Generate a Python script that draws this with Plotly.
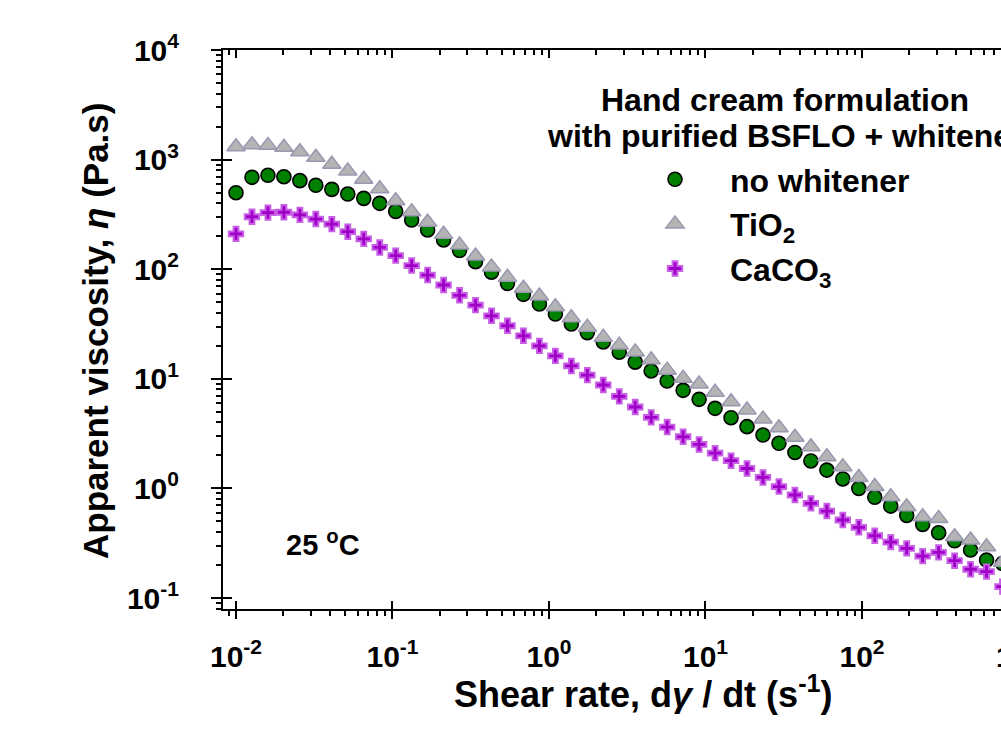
import numpy as np
import plotly.graph_objects as go

# ---------------- data ----------------
n_points = 50
shear_rate = [10 ** (-2 + 5 * i / 49) for i in range(n_points)]  # 0.01 ... 1000 s^-1, log spaced

no_whitener = [499, 689, 719, 698, 643, 583, 535, 485, 443, 399,
               337, 281, 228, 185, 148, 117, 94, 74.3, 59, 48.1,
               39, 31.6, 26.4, 21.7, 17.5, 14.2, 11.8, 9.55, 7.85, 6.50,
               5.38, 4.42, 3.66, 3.07, 2.58, 2.13, 1.78, 1.47, 1.22, 1.00,
               0.83, 0.69, 0.568, 0.47, 0.394, 0.333, 0.274, 0.222, 0.207, 0.19]

tio2 = [1312, 1368, 1349, 1295, 1180, 1049, 906, 787, 661, 543,
        422, 335, 268, 208, 166, 132, 105, 84.3, 67, 56.9,
        45.5, 36.1, 29.5, 23.9, 20.3, 17.6, 14.9, 12.0, 10.1, 8.97,
        7.54, 6.18, 5.19, 4.30, 3.58, 2.93, 2.40, 1.95, 1.58, 1.26,
        1.04, 0.84, 0.681, 0.552, 0.533, 0.362, 0.338, 0.294, 0.212, 0.20]

caco3 = [210, 301, 328, 331, 313, 287, 258, 220, 189, 158,
         133, 108, 88.5, 71.8, 57.8, 47, 37.6, 30.5, 24.7, 20.0,
         16.2, 13.1, 10.8, 8.78, 6.92, 5.53, 4.45, 3.63, 2.96, 2.52,
         2.10, 1.79, 1.52, 1.26, 1.04, 0.871, 0.731, 0.622, 0.515, 0.442,
         0.370, 0.324, 0.284, 0.241, 0.261, 0.219, 0.183, 0.174, 0.127, 0.11]

series_names = ["no whitener", "TiO<sub>2</sub>", "CaCO<sub>3</sub>"]
decades_x = [-2, -1, 0, 1, 2, 3]
decades_y = [-1, 0, 1, 2, 3, 4]
x_ticktext = ["10<sup>%d</sup>" % d for d in decades_x]
y_ticktext = ["10<sup>%d</sup>" % d for d in decades_y]

# ---------------- layout geometry ----------------
W, H = 1100, 743
L, R, T, B = 223, 34, 50, 134
PW, PH = W - L - R, H - T - B
X0 = -2.083
XR = [X0, X0 + PW / 156.5]
YR = [-1.1, 4.0]

FONT = "Liberation Sans, Arial, sans-serif"


def px_x(p):
    return (p - L) / PW


def px_y(p):
    return (H - B - p) / PH


fig = go.Figure()

fig.add_trace(go.Scatter(
    x=shear_rate, y=no_whitener, mode="markers", name=series_names[0],
    marker=dict(symbol="circle", size=14, color="#008000",
                line=dict(color="#000000", width=1.6))))
fig.add_trace(go.Scatter(
    x=shear_rate, y=tio2, mode="markers", name=series_names[1],
    marker=dict(symbol="triangle-up", size=16, color="#b4b4b4",
                line=dict(color="#9898b0", width=1.5))))
fig.add_trace(go.Scatter(
    x=shear_rate, y=caco3, mode="markers", name=series_names[2],
    marker=dict(symbol="cross", size=12, color="#a000c8",
                line=dict(color="#c860e6", width=2))))

# invisible helper traces so the overlay axes (tick crossings, top axis) are drawn
for xa, ya in (("x2", "y"), ("x3", "y"), ("x", "y2")):
    fig.add_trace(go.Scatter(x=[shear_rate[0]], y=[no_whitener[0]], xaxis=xa, yaxis=ya,
                             mode="markers", marker=dict(opacity=0), showlegend=False,
                             hoverinfo="skip"))

tickfont = dict(family=FONT, size=30, color="black", weight="bold")
common_x = dict(type="log", range=XR, showgrid=False, zeroline=False)
common_y = dict(type="log", range=YR, showgrid=False, zeroline=False)

fig.update_layout(
    width=W, height=H,
    margin=dict(l=L, r=R, t=T, b=B, pad=0),
    paper_bgcolor="white", plot_bgcolor="white",
    font=dict(family=FONT, color="black"),
    showlegend=True,
    legend=dict(x=px_x(620), y=px_y(152), xanchor="left", yanchor="top",
                bgcolor="rgba(0,0,0,0)", itemwidth=100,
                font=dict(family=FONT, size=32, color="black", weight="bold"),
                tracegroupgap=0),
    xaxis=dict(**common_x, tickvals=[10 ** d for d in decades_x], ticktext=x_ticktext,
               ticks="outside", ticklen=8, tickwidth=2, tickcolor="black",
               showline=True, linewidth=2, linecolor="black",
               tickfont=tickfont, ticklabelstandoff=12,
               minor=dict(ticks="outside", ticklen=5, tickwidth=1.5, tickcolor="black",
                          dtick="D1", showgrid=False)),
    xaxis2=dict(**common_x, overlaying="x", side="bottom", anchor="y",
                tickvals=[10 ** d for d in decades_x], ticks="inside", ticklen=8,
                tickwidth=2, tickcolor="black", showticklabels=False, showline=False),
    xaxis3=dict(**common_x, overlaying="x", side="top", anchor="y",
                tickvals=[10 ** d for d in decades_x], ticks="inside", ticklen=8,
                tickwidth=2, tickcolor="black", showticklabels=False,
                showline=True, linewidth=2, linecolor="black",
                minor=dict(ticks="inside", ticklen=5, tickwidth=1.5, tickcolor="black",
                           dtick="D1", showgrid=False)),
    yaxis=dict(**common_y, tickvals=[10 ** d for d in decades_y], ticktext=y_ticktext,
               ticks="outside", ticklen=10, tickwidth=2, tickcolor="black",
               showline=True, linewidth=2, linecolor="black",
               tickfont=tickfont, ticklabelstandoff=26,
               minor=dict(ticks="outside", ticklen=5, tickwidth=1.5, tickcolor="black",
                          dtick="D1", showgrid=False)),
    yaxis2=dict(**common_y, overlaying="y", side="left", anchor="x",
                tickvals=[10 ** d for d in decades_y], ticks="inside", ticklen=9,
                tickwidth=2, tickcolor="black", showticklabels=False, showline=False),
)

ann_font = dict(family=FONT, color="black", weight="bold")
fig.add_annotation(text="Hand cream formulation", xref="paper", yref="paper",
                   x=px_x(785), y=px_y(100), xanchor="center", yanchor="middle",
                   showarrow=False, font=dict(**ann_font, size=32))
fig.add_annotation(text="with purified BSFLO + whitener", xref="paper", yref="paper",
                   x=px_x(785), y=px_y(136), xanchor="center", yanchor="middle",
                   showarrow=False, font=dict(**ann_font, size=32))
fig.add_annotation(text="25 <sup>o</sup>C", xref="paper", yref="paper",
                   x=px_x(323), y=px_y(543), xanchor="center", yanchor="middle",
                   showarrow=False, font=dict(**ann_font, size=29))
fig.add_annotation(text="Shear rate, d<i>γ</i> / dt (s<sup>-1</sup>)", xref="paper", yref="paper",
                   x=px_x(643), y=px_y(692), xanchor="center", yanchor="middle",
                   showarrow=False, font=dict(**ann_font, size=36))
fig.add_annotation(text="Apparent viscosity, <i>η</i> (Pa.s)", xref="paper", yref="paper",
                   x=px_x(95), y=px_y(331), xanchor="center", yanchor="middle",
                   textangle=-90, showarrow=False, font=dict(**ann_font, size=35))

fig.write_html("out.html",
               config={"displayModeBar": False},
               post_script="document.documentElement.style.overflow='hidden';"
                           "document.body.style.overflow='hidden';"
                           "document.body.style.margin='0';")
